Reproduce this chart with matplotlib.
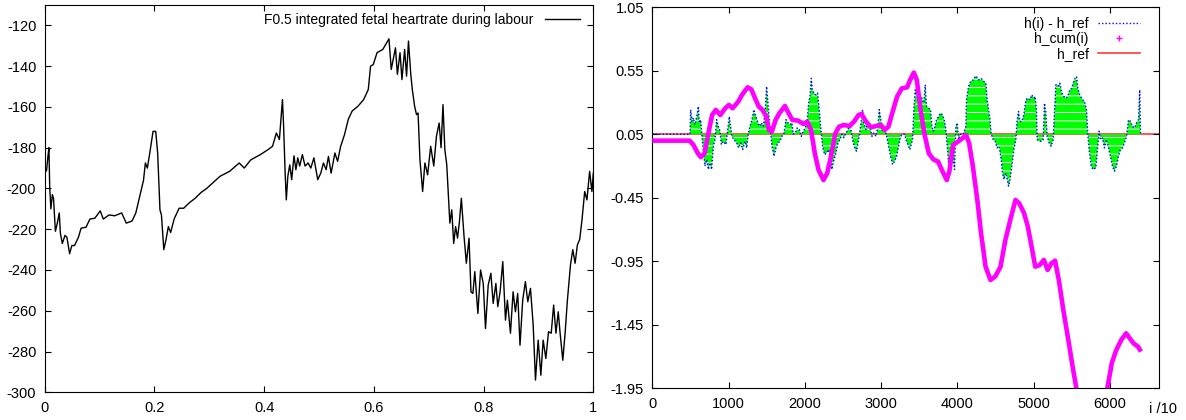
import matplotlib
matplotlib.use("Agg")
import matplotlib.pyplot as plt
from matplotlib.lines import Line2D
from matplotlib.ticker import FormatStrFormatter, FixedLocator
import numpy as np

plt.rcParams['font.family'] = ['Liberation Sans', 'DejaVu Sans']
plt.rcParams['axes.unicode_minus'] = False
plt.rcParams['hatch.linewidth'] = 0.7

# ---------------- left panel data: integrated fetal heart rate ----------------
fhr_t = [0.000, 0.0035, 0.0056, 0.0077, 0.0091, 0.0112, 0.0140, 0.0161, 0.0195, 0.0230,
         0.0265, 0.0286, 0.0321, 0.0370, 0.0405, 0.0454, 0.0495, 0.0544, 0.0614, 0.0663,
         0.0754, 0.0824, 0.0914, 0.1012, 0.1068, 0.1173, 0.1277, 0.1403, 0.1487, 0.1591,
         0.1661, 0.1731, 0.1801, 0.1835, 0.1871, 0.1919, 0.1975, 0.2024, 0.2059, 0.2101,
         0.2128, 0.2171, 0.2212, 0.2254, 0.2296, 0.2359, 0.2450, 0.2533, 0.2638, 0.2743,
         0.2848, 0.2952, 0.3092, 0.3197, 0.3371, 0.3546, 0.3637, 0.3755, 0.3930, 0.4069,
         0.4153, 0.4223, 0.4278, 0.4313, 0.4334, 0.4355, 0.4383, 0.4404, 0.4432, 0.4467,
         0.4502, 0.4544, 0.4579, 0.4613, 0.4648, 0.4697, 0.4746, 0.4802, 0.4851, 0.4907,
         0.4977, 0.5032, 0.5081, 0.5130, 0.5172, 0.5221, 0.5290, 0.5339, 0.5395, 0.5465,
         0.5535, 0.5605, 0.5709, 0.5814, 0.5898, 0.5940, 0.5989, 0.6058, 0.6163, 0.6233,
         0.6275, 0.6317, 0.6359, 0.6394, 0.6429, 0.6477, 0.6512, 0.6561, 0.6596, 0.6631,
         0.6673, 0.6701, 0.6743, 0.6778, 0.6806, 0.6840, 0.6889, 0.6931, 0.6980, 0.7036,
         0.7092, 0.7141, 0.7190, 0.7225, 0.7260, 0.7294, 0.7329, 0.7350, 0.7385, 0.7420,
         0.7455, 0.7490, 0.7525, 0.7560, 0.7595, 0.7644, 0.7686, 0.7735, 0.7770, 0.7805,
         0.7840, 0.7896, 0.7945, 0.7994, 0.8035, 0.8084, 0.8133, 0.8175, 0.8224, 0.8259,
         0.8301, 0.8350, 0.8399, 0.8434, 0.8490, 0.8538, 0.8580, 0.8622, 0.8664, 0.8713,
         0.8762, 0.8806, 0.8855, 0.8904, 0.8946, 0.8995, 0.9044, 0.9086, 0.9135, 0.9184,
         0.9233, 0.9277, 0.9319, 0.9361, 0.9395, 0.9444, 0.9486, 0.9528, 0.9584, 0.9626,
         0.9668, 0.9710, 0.9752, 0.9794, 0.9843, 0.9884, 0.9933, 0.9975, 1.0000]
fhr_v = [-192.5, -191, -185, -180, -199, -210, -203, -205, -221, -217,
         -212, -222, -227, -223, -224, -232, -228, -228, -224, -219.5,
         -219, -215, -214.6, -211, -215, -213, -213.4, -212, -217, -216,
         -212, -204, -196, -187.5, -190, -182, -172, -172, -182.6, -210.5,
         -213, -230, -225, -218.7, -221.6, -215, -209.7, -209.7, -207, -204.8,
         -202, -200, -196.6, -194, -191.6, -187.5, -190, -186, -183.4, -181,
         -179.3, -172.8, -176, -163.8, -156.4, -169.5, -192.5, -205.6, -194, -188.4,
         -195.7, -184, -190.8, -185, -189, -183.4, -189, -187.5, -190, -185,
         -195.7, -192.5, -187.5, -190.8, -184.3, -192.5, -182.6, -186.7, -179.3, -173.6,
         -166, -162, -159.7, -156.4, -151.5, -140, -139.2, -133.4, -131.8, -128.5,
         -126.6, -141.6, -135.9, -131, -144, -133.4, -146.6, -131.8, -144.9, -127.7,
         -144, -151.5, -159.7, -163.8, -163, -185.9, -201.5, -187.5, -193.3, -179.3,
         -189, -174.4, -167.9, -180, -158.9, -181, -188.4, -199, -217, -210.5,
         -227, -218.7, -224.4, -216.2, -204.8, -223.6, -236.7, -224.4, -250.7, -251.5,
         -240.8, -261.3, -240, -246.6, -268.7, -247.4, -241.6, -256.4, -246.6, -258,
         -250.7, -235.9, -264.6, -254.8, -271, -250.7, -260.5, -251.5, -276.9, -254.8,
         -245.7, -255.6, -249, -267, -294, -274.4, -291.6, -274.4, -283.4, -270.3,
         -271, -257.2, -271, -260.5, -271, -284.3, -271, -254.8, -237.5, -230,
         -236.7, -227.7, -225, -215.4, -201.5, -205.6, -191.6, -201.5, -192.5]
left_yticks = [-300, -280, -260, -240, -220, -200, -180, -160, -140, -120]
left_xticks = [0, 0.2, 0.4, 0.6, 0.8, 1]
left_label = "F0.5 integrated fetal heartrate during labour"

# ---------------- right panel data ----------------
h_ref_value = 0.05
h_ref_i = [0, 6645]

hdiff_i = [0, 480, 494, 503, 520, 537, 559, 582, 604, 617, 634, 651, 669, 690, 712, 735, 756,
           778, 800, 822, 843, 865, 887, 905, 931, 966, 983, 1009, 1026, 1044, 1071, 1106,
           1132, 1158, 1185, 1214, 1237, 1259, 1280, 1306, 1332, 1358, 1385, 1403, 1429,
           1455, 1481, 1498, 1516, 1533, 1551, 1569, 1595, 1621, 1647, 1673, 1699, 1726,
           1752, 1778, 1804, 1830, 1847, 1873, 1900, 1927, 1953, 1979, 2005, 2032, 2049,
           2066, 2084, 2097, 2118, 2145, 2166, 2188, 2206, 2232, 2258, 2284, 2310, 2336,
           2354, 2381, 2407, 2433, 2459, 2485, 2511, 2538, 2564, 2590, 2608, 2634, 2660,
           2677, 2704, 2730, 2756, 2773, 2800, 2826, 2852, 2879, 2905, 2931, 2957, 2974,
           2991, 3018, 3045, 3071, 3097, 3123, 3149, 3175, 3202, 3228, 3254, 3280, 3306,
           3332, 3376, 3411, 3428, 3446, 3463, 3485, 3507, 3533, 3559, 3577, 3594, 3621,
           3647, 3664, 3682, 3699, 3725, 3752, 3778, 3804, 3830, 3848, 3865, 3883, 3900,
           3926, 3944, 3961, 3979, 3996, 4014, 4040, 4075, 4110, 4118, 4145, 4171, 4206,
           4241, 4276, 4311, 4345, 4372, 4389, 4407, 4424, 4442, 4468, 4494, 4520, 4546,
           4573, 4590, 4608, 4634, 4651, 4669, 4686, 4712, 4739, 4765, 4782, 4800, 4817,
           4843, 4870, 4896, 4922, 4948, 4974, 5001, 5018, 5035, 5044, 5070, 5097, 5123,
           5140, 5158, 5175, 5201, 5228, 5254, 5271, 5289, 5315, 5341, 5367, 5394, 5420,
           5446, 5472, 5498, 5516, 5542, 5560, 5577, 5603, 5638, 5664, 5691, 5708, 5725,
           5752, 5778, 5813, 5839, 5856, 5874, 5900, 5926, 5953, 5979, 6005, 6031, 6057,
           6084, 6110, 6136, 6162, 6188, 6215, 6241, 6267, 6293, 6319, 6346, 6372, 6389, 6398]
hdiff_v = [0.05, 0.05, 0.05, 0.244, 0.152, 0.18, 0.126, 0.19, 0.27, 0.14, 0.165, 0.034, -0.083,
           -0.20, -0.15, -0.227, -0.175, -0.227, -0.044, 0.008, 0.165, 0.113, 0.074, -0.031,
           -0.005, -0.031, 0.06, 0.19, 0.113, 0.034, 0.008, -0.018, -0.057, -0.018, -0.07,
           -0.005, -0.057, 0.06, 0.113, 0.165, 0.244, 0.19, 0.14, 0.113, 0.14, 0.113, 0.244,
           0.427, 0.296, 0.152, 0.06, -0.044, -0.123, -0.057, -0.018, -0.005, 0.034, 0.06,
           0.165, 0.14, 0.126, 0.14, 0.05, 0.06, 0.10, 0.087, 0.034, 0.074, 0.10, 0.165,
           0.296, 0.348, 0.49, 0.40, 0.375, 0.36, 0.375, 0.244, 0.113, -0.044, -0.11, -0.097,
           -0.07, -0.15, -0.227, -0.15, -0.097, -0.018, 0.008, 0.05, 0.024, 0.06, 0.087,
           0.126, 0.074, -0.018, -0.07, -0.083, 0.008, 0.113, 0.244, 0.14, 0.087, 0.152,
           0.113, 0.034, 0.06, 0.034, 0.113, 0.244, 0.18, 0.074, 0.10, 0.034, -0.044, -0.123,
           -0.188, -0.162, -0.123, -0.044, 0.034, 0.05, 0.05, -0.005, -0.07, 0.008, 0.244,
           0.40, 0.36, 0.348, 0.36, 0.335, 0.296, 0.44, 0.27, 0.257, 0.244, 0.113, 0.074,
           0.10, 0.165, 0.19, 0.217, 0.204, 0.152, 0.087, -0.044, -0.175, -0.123, -0.07,
           -0.15, -0.227, 0.113, 0.14, 0.008, 0.05, 0.05, 0.113, 0.322, 0.427, 0.466, 0.479,
           0.51, 0.479, 0.49, 0.466, 0.453, 0.322, 0.244, 0.18, 0.05, 0.008, -0.005, -0.057,
           -0.044, -0.15, -0.254, -0.306, -0.254, -0.306, -0.358, -0.319, -0.201, -0.07,
           0.008, 0.165, 0.23, 0.152, 0.152, 0.204, 0.322, 0.335, 0.322, 0.36, 0.335, 0.348,
           0.244, 0.008, -0.005, -0.005, 0.008, 0.296, 0.217, 0.034, -0.018, -0.044, 0.008,
           0.217, 0.44, 0.427, 0.453, 0.375, 0.348, 0.335, 0.348, 0.40, 0.414, 0.453, 0.492,
           0.505, 0.414, 0.36, 0.322, 0.309, 0.244, 0.05, -0.07, -0.201, -0.227, -0.214,
           -0.044, 0.074, 0.008, 0.021, -0.057, 0.008, -0.057, -0.123, -0.201, -0.24, -0.201,
           -0.123, -0.07, -0.057, -0.018, 0.034, 0.165, 0.152, 0.113, 0.10, 0.14, 0.165,
           0.40, 0.05]

hcum_i = [0, 490, 539, 597, 637, 686, 735, 784, 832, 891, 955, 1004, 1053, 1126, 1175, 1249,
          1298, 1347, 1396, 1445, 1494, 1528, 1567, 1616, 1665, 1738, 1787, 1836, 1910, 1983,
          2032, 2081, 2130, 2179, 2243, 2292, 2341, 2399, 2449, 2507, 2586, 2644, 2703, 2742,
          2801, 2865, 2938, 2997, 3046, 3095, 3144, 3208, 3271, 3340, 3379, 3428, 3467, 3516,
          3565, 3624, 3683, 3746, 3795, 3859, 3893, 3942, 4006, 4064, 4113, 4153, 4202, 4260,
          4309, 4368, 4432, 4495, 4564, 4628, 4692, 4760, 4809, 4873, 4922, 4971, 5019, 5078,
          5132, 5181, 5230, 5279, 5328, 5387, 5460, 5509, 5558, 5620, 5900, 5964, 6023, 6082,
          6146, 6210, 6258, 6307, 6366, 6405]
hcum_v = [0.0, 0.0, -0.034, -0.10, -0.13, -0.10, 0.058, 0.202, 0.242, 0.202, 0.255, 0.281,
          0.255, 0.307, 0.36, 0.42, 0.404, 0.333, 0.268, 0.242, 0.189, 0.084, 0.071, 0.163,
          0.215, 0.273, 0.215, 0.163, 0.158, 0.131, 0.15, 0.084, -0.10, -0.231, -0.31, -0.257,
          -0.126, 0.058, 0.11, 0.123, 0.116, 0.15, 0.202, 0.21, 0.15, 0.105, 0.116, 0.123,
          0.084, 0.11, 0.215, 0.347, 0.412, 0.42, 0.478, 0.536, 0.478, 0.242, 0.058, -0.10,
          -0.147, -0.165, -0.231, -0.31, -0.244, -0.034, -0.008, 0.018, 0.045, -0.021, -0.205,
          -0.467, -0.73, -0.992, -1.097, -1.07, -0.992, -0.782, -0.624, -0.467, -0.493,
          -0.572, -0.677, -0.834, -0.992, -0.979, -0.939, -1.018, -0.966, -0.945, -1.097,
          -1.333, -1.596, -1.78, -1.95, -2.17, -2.17, -1.95, -1.75, -1.648, -1.569, -1.517,
          -1.556, -1.596, -1.622, -1.661]

right_yticks = [-1.95, -1.45, -0.95, -0.45, 0.05, 0.55, 1.05]
right_xticks = [0, 1000, 2000, 3000, 4000, 5000, 6000]
right_labels = ["h(i) - h_ref", "h_cum(i)", "h_ref"]

# ---------------- figure ----------------
W, H = 1186, 420
fig = plt.figure(figsize=(W / 100, H / 100), dpi=100)

def px_axes(x0, y0, x1, y1):
    return fig.add_axes([x0 / W, 1 - y1 / H, (x1 - x0) / W, (y1 - y0) / H])

tick_fs = 10.5
leg_fs = 10

def style(ax):
    for s in ax.spines.values():
        s.set_linewidth(0.8)
        s.set_color('black')
    ax.tick_params(direction='in', length=4, width=0.8, top=True, right=True,
                   labelsize=tick_fs, colors='black')
    ax.tick_params(axis='y', pad=6)
    ax.tick_params(axis='x', pad=6)

# left
ax1 = px_axes(44.7, 5, 593.3, 392.3)
ln1, = ax1.plot(fhr_t, fhr_v, color='black', lw=1.0, label=left_label)
ax1.set_xlim(0, 1)
ax1.set_ylim(-300, -110)
ax1.yaxis.set_major_locator(FixedLocator(left_yticks))
ax1.xaxis.set_major_locator(FixedLocator(left_xticks))
ax1.xaxis.set_major_formatter(FormatStrFormatter('%g'))
style(ax1)
ax1.legend(handles=[ln1], loc='upper right', bbox_to_anchor=(0.976, 0.980),
           frameon=False, markerfirst=False, fontsize=leg_fs, handlelength=2.5,
           handletextpad=0.85, borderpad=0, borderaxespad=0)

# right
ax2 = px_axes(652.3, 7.3, 1159.3, 388.3)
ax2.plot(h_ref_i, [h_ref_value] * len(h_ref_i), color='#ff3b3b', lw=1.2, zorder=1)
hd_i = np.array(hdiff_i)
hd_v = np.array(hdiff_v)
ax2.fill_between(hd_i, h_ref_value, hd_v, facecolor='#00ff00', edgecolor='white',
                 hatch='--', linewidth=0, zorder=2)
ax2.plot(hd_i, hd_v, color='#0000ff', lw=1.0, ls=(0, (1, 1.5)), zorder=3)
ax2.plot(hcum_i, hcum_v, color='#ff00ff', lw=3.3, solid_capstyle='butt',
         solid_joinstyle='round', zorder=4)
ax2.set_xlim(0, 6645)
ax2.set_ylim(-1.95, 1.05)
ax2.yaxis.set_major_locator(FixedLocator(right_yticks))
ax2.yaxis.set_major_formatter(FormatStrFormatter('%.2f'))
ax2.xaxis.set_major_locator(FixedLocator(right_xticks))
style(ax2)
ax2.text(1.007, -0.054, "i /10", transform=ax2.transAxes, ha='center', va='center',
         fontsize=tick_fs)

handles = [Line2D([], [], color='#0000ff', lw=1.0, ls=(0, (1, 1.5))),
           Line2D([], [], color='#ff00ff', marker='+', ls='none', markersize=5, mew=1),
           Line2D([], [], color='#ff3b3b', lw=1.2)]
ax2.legend(handles=handles, labels=right_labels, loc='upper right',
           bbox_to_anchor=(0.962, 0.975), frameon=False, markerfirst=False,
           fontsize=leg_fs, handlelength=3.0, handletextpad=0.7, borderpad=0,
           borderaxespad=0, labelspacing=0.08)

fig.savefig("out.png", dpi=100)
